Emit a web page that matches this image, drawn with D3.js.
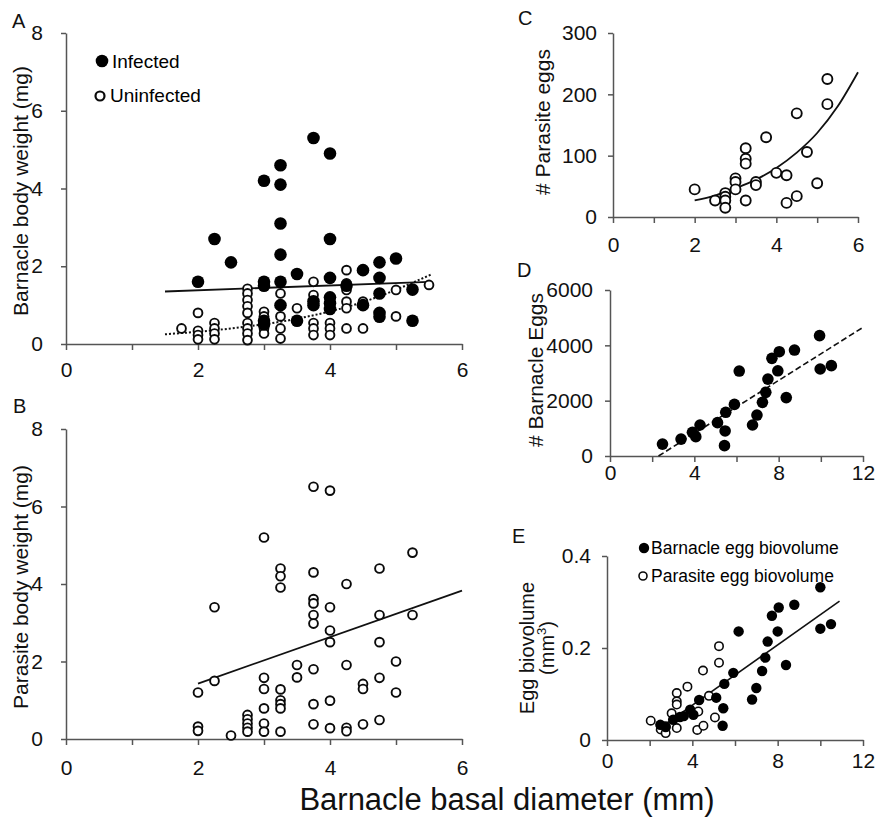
<!DOCTYPE html>
<html>
<head>
<meta charset="utf-8">
<script src="https://cdn.jsdelivr.net/npm/d3@7"></script>
<style>
  body { margin: 0; background: #fff; }
  svg { font-family: "Liberation Sans", Arial, Helvetica, sans-serif; }
  .axis path, .axis line { stroke: #555; stroke-width: 1.5; }
  .axis text { font-size: 21px; fill: #111; font-family: "Liberation Sans", Arial, sans-serif; }
  .lbl { font-size: 21px; fill: #111; }
</style>
</head>
<body>
<div id="chart"></div>
<script>
// ---- data: [basal diameter, value] ----
const aInfected = [
  [2.0,1.6],[2.25,2.7],[2.5,2.1],[3.0,4.2],[3.0,1.6],[3.0,1.5],[3.0,0.6],[3.0,0.5],
  [3.25,4.6],[3.25,4.1],[3.25,3.1],[3.25,2.3],[3.25,1.6],[3.25,1.0],[3.5,1.8],[3.5,0.6],
  [3.75,5.3],[3.75,1.1],[3.75,1.0],[4.0,4.9],[4.0,2.7],[4.0,1.7],[4.0,1.2],[4.0,1.05],[4.0,0.9],
  [4.25,1.5],[4.5,1.9],[4.5,1.0],[4.75,2.1],[4.75,1.7],[4.75,1.3],[4.75,0.8],[4.75,0.7],
  [5.0,2.2],[5.25,1.4],[5.25,0.6]
];
const aUninfected = [
  [1.75,0.4],[2.0,0.8],[2.0,0.34],[2.0,0.23],[2.0,0.12],[2.25,0.54],[2.25,0.4],[2.25,0.27],[2.25,0.12],
  [2.75,1.42],[2.75,1.3],[2.75,1.13],[2.75,0.97],[2.75,0.8],[2.75,0.54],[2.75,0.4],[2.75,0.27],[2.75,0.1],
  [3.0,0.83],[3.0,0.71],[3.0,0.54],[3.0,0.4],[3.0,0.27],[3.25,1.3],[3.25,0.71],[3.25,0.4],[3.25,0.14],
  [3.5,0.92],[3.75,1.6],[3.75,1.26],[3.75,0.54],[3.75,0.4],[3.75,0.23],[4.0,0.54],[4.0,0.4],[4.0,0.23],
  [4.25,1.9],[4.25,1.56],[4.25,1.39],[4.25,1.09],[4.25,0.92],[4.25,0.4],[4.5,1.09],[4.5,0.4],
  [5.0,1.39],[5.0,0.71],[5.5,1.52]
];
const aInfectedFit = [[1.5,1.35],[5.5,1.6]];
const aUninfectedFit = [[1.5,0.25],[2.5,0.4],[3.5,0.65],[4.5,1.08],[5.55,1.8]];

const bParasite = [
  [2.0,1.2],[2.0,0.32],[2.0,0.21],[2.25,3.4],[2.25,1.5],[2.5,0.09],
  [2.75,0.62],[2.75,0.51],[2.75,0.4],[2.75,0.29],[2.75,0.19],
  [3.0,5.2],[3.0,1.58],[3.0,1.29],[3.0,0.79],[3.0,0.4],[3.0,0.19],
  [3.25,4.4],[3.25,4.2],[3.25,3.91],[3.25,1.28],[3.25,1.0],[3.25,0.9],[3.25,0.79],[3.25,0.19],
  [3.5,1.91],[3.5,1.59],
  [3.75,6.51],[3.75,4.3],[3.75,3.61],[3.75,3.5],[3.75,3.2],[3.75,2.98],[3.75,1.8],[3.75,0.9],[3.75,0.38],
  [4.0,6.41],[4.0,3.4],[4.0,2.8],[4.0,2.5],[4.0,0.99],[4.0,0.28],
  [4.25,4.0],[4.25,1.91],[4.25,0.29],[4.25,0.2],[4.5,1.42],[4.5,1.29],[4.5,0.38],
  [4.75,4.4],[4.75,3.2],[4.75,2.5],[4.75,1.58],[4.75,0.49],[5.0,2.0],[5.0,1.2],[5.25,4.81],[5.25,3.2]
];
const bFit = [[2.0,1.43],[6.0,3.83]];

const cEggs = [
  [2.0,45],[2.5,27],[2.75,39],[2.75,33],[2.75,27],[2.75,15],[3.0,63],[3.0,57],[3.0,45],
  [3.25,112],[3.25,95],[3.25,87],[3.25,27],[3.5,57],[3.5,52],[3.75,130],[4.0,72],
  [4.25,68],[4.25,23],[4.5,169],[4.5,34],[4.75,106],[5.0,55],[5.25,225],[5.25,184]
];
const cFit = [[2,27],[2.5,35],[3,47],[3.5,61],[4,80],[4.5,105],[5,137],[5.5,180],[6,236]];

const dEggs = [
  [2.49,430],[3.37,610],[3.91,855],[4.07,700],[4.27,1120],[5.1,1205],[5.43,375],[5.46,905],
  [5.49,1580],[5.9,1865],[6.13,3070],[6.76,1120],[6.97,1480],[7.23,1940],[7.39,2300],[7.49,2780],
  [7.68,3530],[7.96,3080],[8.03,3770],[8.36,2110],[8.75,3830],[9.94,4350],[9.97,3145],[10.5,3265]
];
const dFit = [[2.3,0],[12,4650]];

const eBarnacle = [
  [2.5,0.033],[2.75,0.028],[3.1,0.044],[3.42,0.05],[3.6,0.052],[3.9,0.066],[4.05,0.055],[4.32,0.087],
  [5.12,0.092],[5.45,0.069],[5.42,0.031],[5.5,0.122],[5.92,0.146],[6.17,0.236],[6.8,0.088],[7.0,0.113],
  [7.27,0.15],[7.42,0.179],[7.53,0.214],[7.73,0.27],[8.0,0.236],[8.05,0.288],[8.39,0.163],[8.78,0.294],
  [10.0,0.332],[10.0,0.242],[10.5,0.252]
];
const eParasite = [
  [2.05,0.042],[2.52,0.023],[2.75,0.015],[2.75,0.03],[3.03,0.058],[3.27,0.102],[3.27,0.084],[3.27,0.077],
  [3.27,0.026],[3.77,0.116],[4.28,0.062],[4.23,0.022],[4.52,0.031],[4.5,0.151],[4.78,0.096],[5.06,0.049],
  [5.25,0.168],[5.25,0.204]
];
const eFit = [[2.3,0.02],[10.9,0.302]];

const svg = d3.select('#chart').append('svg')
  .attr('width', 875)
  .attr('height', 821);

// sets up one panel: scales + axes
function panel(o) {
  const x = d3.scaleLinear().domain(o.xDomain).range(o.xRange);
  const y = d3.scaleLinear().domain(o.yDomain).range(o.yRange);
  const g = svg.append('g');

  const xAxis = d3.axisBottom(x)
    .tickValues(d3.range(o.xDomain[0], o.xDomain[1] + 0.001, o.xStep))
    .tickFormat(d => d % o.xLabelStep === 0 ? d : '')
    .tickSize(6).tickSizeOuter(0).tickPadding(o.xPad);
  g.append('g').attr('class', 'axis')
    .attr('transform', `translate(0,${o.yRange[0]})`)
    .call(xAxis);

  const yAxis = d3.axisLeft(y)
    .tickValues(o.yTicks)
    .tickFormat(o.yFormat || (d => d))
    .tickSize(5).tickSizeOuter(0).tickPadding(o.yPad);
  g.append('g').attr('class', 'axis')
    .attr('transform', `translate(${o.xRange[0]},0)`)
    .call(yAxis);

  g.selectAll('.domain').attr('stroke', '#555');
  return { g, x, y };
}

function fitLine(p, pts, dash, width, curve) {
  const line = d3.line()
    .x(d => p.x(d[0]))
    .y(d => p.y(d[1]))
    .curve(curve || d3.curveLinear);
  p.g.append('path')
    .datum(pts)
    .attr('d', line)
    .attr('fill', 'none')
    .attr('stroke', '#111')
    .attr('stroke-width', width || 1.6)
    .attr('stroke-dasharray', dash || null);
}

function dots(p, pts, r, filled, sw) {
  p.g.append('g').selectAll('circle')
    .data(pts)
    .join('circle')
    .attr('cx', d => p.x(d[0]))
    .attr('cy', d => p.y(d[1]))
    .attr('r', r)
    .attr('fill', filled ? '#000' : '#fff')
    .attr('stroke', filled ? 'none' : '#0a0a0a')
    .attr('stroke-width', filled ? 0 : (sw || 1.9));
}

function yTitle(lines, x, y) {
  lines.forEach(l => {
    svg.append('text').attr('class', 'lbl')
      .attr('transform', `translate(${l.x},${y}) rotate(-90)`)
      .attr('text-anchor', 'middle')
      .style('font-size', (l.size || 21) + 'px')
      .html(l.t);
  });
}

function letter(t, x, y) {
  svg.append('text').attr('x', x).attr('y', y)
    .style('font-size', '20px').attr('fill', '#111').text(t);
}

// ---- A ----
const pA = panel({ xDomain: [0, 6], xRange: [66, 462], yDomain: [0, 8], yRange: [344, 33],
  xStep: 1, xLabelStep: 2, xPad: 12, yTicks: [0, 2, 4, 6, 8], yPad: 18 });
fitLine(pA, aInfectedFit, null, 1.8);
fitLine(pA, aUninfectedFit, '2,2', 2, d3.curveMonotoneX);
dots(pA, aUninfected, 4.4, false);
dots(pA, aInfected, 6.3, true);
yTitle([{ t: 'Barnacle body weight (mg)', x: 28 }], 0, 191);
letter('A', 12, 28);
svg.append('circle').attr('cx', 102).attr('cy', 61).attr('r', 6.3).attr('fill', '#000');
svg.append('text').attr('x', 112).attr('y', 68).style('font-size', '19px').text('Infected');
svg.append('circle').attr('cx', 100).attr('cy', 96).attr('r', 4.5)
  .attr('fill', '#fff').attr('stroke', '#0a0a0a').attr('stroke-width', 2.2);
svg.append('text').attr('x', 110).attr('y', 102).style('font-size', '19px').text('Uninfected');

// ---- B ----
const pB = panel({ xDomain: [0, 6], xRange: [66, 462], yDomain: [0, 8], yRange: [739, 429],
  xStep: 1, xLabelStep: 2, xPad: 15, yTicks: [0, 2, 4, 6, 8], yPad: 18 });
fitLine(pB, bFit, null, 1.8);
dots(pB, bParasite, 4.4, false);
yTitle([{ t: 'Parasite body weight (mg)', x: 28 }], 0, 587);
letter('B', 13, 413);

// ---- C ----
const pC = panel({ xDomain: [0, 6], xRange: [613, 858], yDomain: [0, 300], yRange: [217, 33],
  xStep: 1, xLabelStep: 2, xPad: 14, yTicks: [0, 100, 200, 300], yPad: 11 });
fitLine(pC, cFit, null, 1.8, d3.curveMonotoneX);
dots(pC, cEggs, 5, false);
yTitle([{ t: '# Parasite eggs', x: 550 }], 0, 122);
letter('C', 518, 25);

// ---- D ----
const pD = panel({ xDomain: [0, 12], xRange: [610, 863], yDomain: [0, 6000], yRange: [456, 290],
  xStep: 2, xLabelStep: 4, xPad: 3, yTicks: [0, 2000, 4000, 6000], yPad: 12 });
fitLine(pD, dFit, '6,3', 1.6);
dots(pD, dEggs, 5.8, true);
yTitle([{ t: '# Barnacle Eggs', x: 543 }], 0, 370);
letter('D', 517, 277);

// ---- E ----
const pE = panel({ xDomain: [0, 12], xRange: [607, 863], yDomain: [0, 0.4], yRange: [740, 556],
  xStep: 2, xLabelStep: 4, xPad: 7, yTicks: [0, 0.2, 0.4], yPad: 11,
  yFormat: d => d === 0 ? '0' : d3.format('.1f')(d) });
fitLine(pE, eFit, null, 1.6);
dots(pE, eParasite, 4.2, false, 1.6);
dots(pE, eBarnacle, 5.2, true);
yTitle([{ t: 'Egg biovolume', x: 534, size: 20 },
        { t: '(mm<tspan dy="-8" font-size="13px">3</tspan><tspan dy="8">)</tspan>', x: 554, size: 20 }], 0, 648);
letter('E', 512, 543);
svg.append('circle').attr('cx', 644).attr('cy', 548).attr('r', 5.2).attr('fill', '#000');
svg.append('text').attr('x', 651).attr('y', 554).style('font-size', '17.5px').text('Barnacle egg biovolume');
svg.append('circle').attr('cx', 643).attr('cy', 576).attr('r', 4)
  .attr('fill', '#fff').attr('stroke', '#0a0a0a').attr('stroke-width', 1.6);
svg.append('text').attr('x', 651).attr('y', 582).style('font-size', '17.5px').text('Parasite egg biovolume');

// shared x title
svg.append('text')
  .attr('x', 507).attr('y', 810)
  .attr('text-anchor', 'middle')
  .style('font-size', '31px').attr('fill', '#111')
  .text('Barnacle basal diameter (mm)');
</script>
</body>
</html>
